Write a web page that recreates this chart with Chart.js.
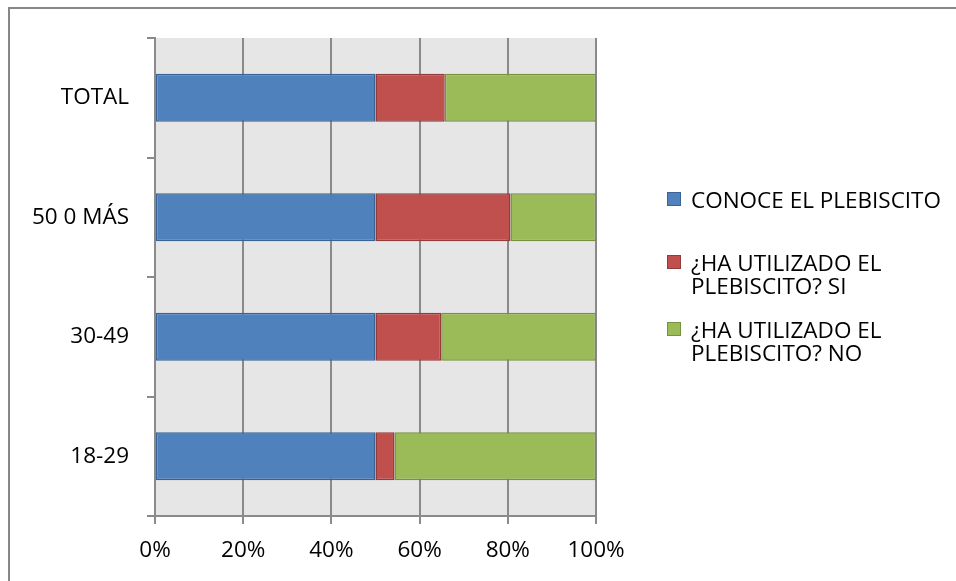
<!DOCTYPE html>
<html>
<head>
<meta charset="utf-8">
<script src="https://cdn.jsdelivr.net/npm/chart.js@4"></script>
<style>
    html, body { margin: 0; padding: 0; background: #fff; }
    #wrap { position: relative; width: 956px; height: 581px; overflow: hidden; }
    #frame { position: absolute; left: 8px; top: 7px; right: -4px; bottom: -4px;
             border-top: 2px solid #878787; border-left: 2px solid #878787; }
    canvas { position: absolute; left: 0; top: 0; }
    #legend { position: absolute; left: 667px; top: 0; font-family: 'Open Sans', sans-serif;
              font-size: 22.5px; line-height: 23px; color: #000; }
    .item { position: absolute; left: 0; width: 290px; }
    .box { position: absolute; left: 0; top: 4px; width: 14px; height: 14px; box-sizing: border-box; }
    .txt { position: absolute; left: 24px; width: 266px; }
</style>
</head>
<body>
<div id="wrap">
    <div id="frame"></div>
    <canvas id="chart" width="956" height="581"></canvas>
    <div id="legend"></div>
</div>
<script>
// categorías (de arriba hacia abajo)
const categories = ["TOTAL", "50 0 MÁS", "30-49", "18-29"];

// series
const seriesLabels = ["CONOCE EL PLEBISCITO", "¿HA UTILIZADO EL PLEBISCITO? SI", "¿HA UTILIZADO EL PLEBISCITO? NO"];
const conoce = [50, 50, 50, 50];
const utilizadoSi = [15.7, 30.6, 14.9, 4.3];
const utilizadoNo = [34.3, 19.4, 35.1, 45.7];

// eje x
const xTicks = [0, 20, 40, 60, 80, 100];

const fills = ["#4f81bd", "#c0504d", "#9bbb59"];
const borders = ["#3a6395", "#923b38", "#76923f"];
const gridColor = "#8a8a8a";

Chart.defaults.font.family = "'Open Sans', sans-serif";
Chart.defaults.font.size = 22.5;
Chart.defaults.color = "#000";

// fondo gris del área de trazado
const plotBg = {
    id: "plotBg",
    beforeDraw(chart) {
        const { ctx, chartArea: a } = chart;
        ctx.save();
        ctx.fillStyle = "#e6e6e6";
        ctx.fillRect(a.left, a.top, a.right - a.left, a.bottom - a.top);
        ctx.restore();
    }
};

const seriesData = [conoce, utilizadoSi, utilizadoNo];

const chart = new Chart(document.getElementById("chart"), {
    type: "bar",
    data: {
        labels: categories,
        datasets: seriesLabels.map((label, i) => ({
            label: label,
            data: seriesData[i],
            backgroundColor: fills[i],
            borderColor: borders[i],
            borderWidth: 1.5,
            borderSkipped: false,
            barPercentage: 0.4,
            categoryPercentage: 1
        }))
    },
    options: {
        indexAxis: "y",
        responsive: false,
        animation: false,
        layout: { padding: { left: 0, top: 38, right: 360, bottom: 0 } },
        plugins: {
            legend: { display: false },
            tooltip: { enabled: false }
        },
        scales: {
            x: {
                stacked: true,
                min: 0,
                max: 100,
                afterBuildTicks: (scale) => { scale.ticks = xTicks.map(v => ({ value: v })); },
                afterFit: (scale) => { scale.height = 65; },
                ticks: { callback: (v) => v + "%", padding: 13, maxRotation: 0 },
                grid: { color: gridColor, lineWidth: 2, tickLength: 8, drawOnChartArea: true },
                border: { color: gridColor, width: 2 }
            },
            y: {
                stacked: true,
                afterFit: (scale) => { scale.width = 155; },
                ticks: { padding: 18 },
                grid: { color: gridColor, lineWidth: 2, tickLength: 8, drawOnChartArea: false, offset: true },
                border: { color: gridColor, width: 2 }
            }
        }
    },
    plugins: [plotBg]
});

// leyenda HTML a la derecha
const legendTops = [188, 251, 318];
const legendEl = document.getElementById("legend");
seriesLabels.forEach((label, i) => {
    const item = document.createElement("div");
    item.className = "item";
    item.style.top = legendTops[i] + "px";
    item.innerHTML = `<div class="box" style="background:${fills[i]};border:1px solid ${borders[i]}"></div>` +
        `<div class="txt">${label}</div>`;
    legendEl.appendChild(item);
});
</script>
</body>
</html>
